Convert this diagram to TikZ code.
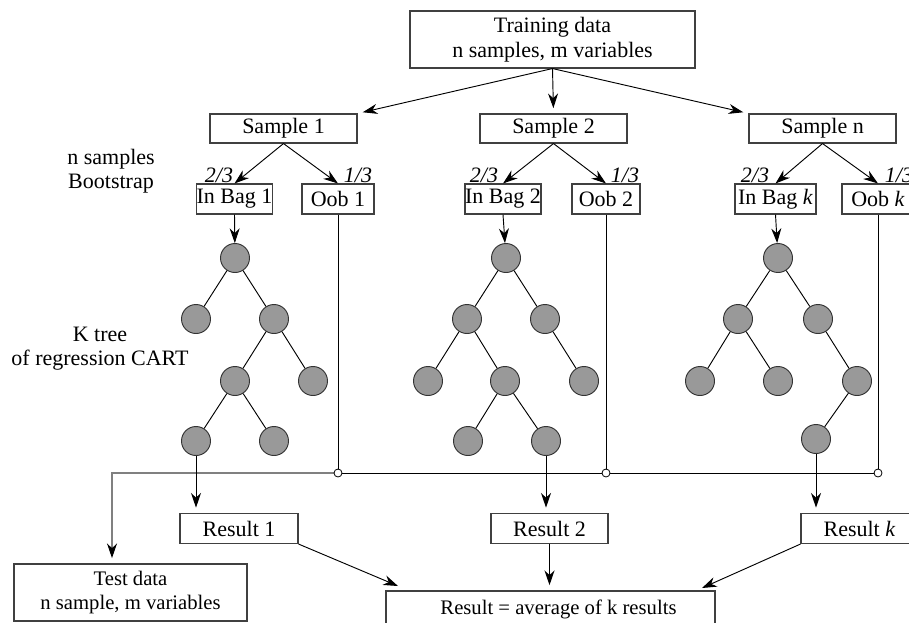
\documentclass[tikz,border=0pt]{standalone}
\usepackage{fontspec}
\setmainfont{Liberation Serif}
\usetikzlibrary{arrows.meta,calc}
\begin{document}
\begin{tikzpicture}[x=0.75pt,y=-0.75pt,
  every node/.style={font=\fontsize{16.5}{18.75}\selectfont, inner sep=0pt},
  bx/.style={draw=black!75, line width=0.8pt, rectangle, align=center, fill=white},
  leaf/.style={circle, draw=black!80, fill=black!40, line width=0.7pt, minimum size=21.75pt},
  conn/.style={line width=0.7pt, draw=black},
  arr/.style={conn, -{Stealth[length=11pt,width=7.5pt,inset=3.5pt]}},
  garr/.style={line width=0.8pt, draw=black!50, -{Stealth[length=11pt,width=7.5pt,inset=3.5pt,black]}},
  gap/.style={shorten >=4pt},
  jdot/.style={circle, draw=black, fill=white, line width=0.6pt, minimum size=6pt},
  frac/.style={font=\fontsize{16.5}{18}\selectfont\itshape},
  sidetext/.style={align=center, font=\fontsize{16.5}{18}\selectfont}
]
\useasboundingbox (0,0) rectangle (909,622);
\clip (0,0) rectangle (909,622);

% top
\node[bx, minimum width=0.75*285pt, minimum height=0.75*57pt] (train) at (552.5,39.5) {Training data\\n samples, m variables};

% samples
\node[bx, minimum width=0.75*147pt, minimum height=0.75*29pt] (s1) at (283.5,128.5) {Sample 1};
\node[bx, minimum width=0.75*147pt, minimum height=0.75*29pt] (s2) at (553.5,128.5) {Sample 2};
\node[bx, minimum width=0.75*147pt, minimum height=0.75*29pt] (sn) at (822.5,128.5) {Sample n};

% bags
\node[bx, minimum width=0.75*75pt, minimum height=0.75*30pt] (ib1) at (234.5,199) {In Bag 1};
\node[bx, minimum width=0.75*76pt, minimum height=0.75*30pt] (ib2) at (503,199) {In Bag 2};
\node[bx, minimum width=0.75*81pt, minimum height=0.75*30pt] (ibk) at (775.5,199) {In Bag \textit{k}};
\node[bx, minimum width=0.75*72pt, minimum height=0.75*30pt] (ob1) at (338,199) {Oob 1};
\node[bx, minimum width=0.75*68pt, minimum height=0.75*30pt] (ob2) at (606,199) {Oob 2};
\node[bx, minimum width=0.75*72pt, minimum height=0.75*30pt] (obk) at (878,199) {Oob \textit{k}};

% fractions
\node[frac] (fa1) at (219,175) {2/3};
\node[frac] (fb1) at (358,175) {1/3};
\node[frac] (fa2) at (484,175) {2/3};
\node[frac] (fb2) at (625,175) {1/3};
\node[frac] (fa3) at (755,175) {2/3};
\node[frac] (fb3) at (899,175) {1/3};

% side texts
\node[sidetext] (nsb) at (111,171) {n samples\\Bootstrap};
\node[sidetext] (kt) at (100,349) {K tree\\of regression CART};

% result boxes
\node[bx, minimum width=0.75*118pt, minimum height=0.75*30pt] (r1) at (239,528.5) {Result 1};
\node[bx, minimum width=0.75*117pt, minimum height=0.75*30pt] (r2) at (549.5,528.5) {Result 2};
\node[bx, minimum width=0.75*117pt, minimum height=0.75*30pt] (rk) at (859.5,528.5) {Result \textit{k}};
\node[bx, minimum width=0.75*233pt, minimum height=0.75*57pt, font=\fontsize{15.5}{18}\selectfont] (test) at (130.5,592.5) {Test data\\n sample, m variables};
\node[bx, minimum width=0.75*329pt, minimum height=0.75*36pt, font=\fontsize{15.5}{18}\selectfont] (fin) at (550.5,609) {\hspace*{12pt}Result = average of k results};

% tree 1
\node[leaf] (t1a) at (235,258) {};
\node[leaf] (t1b) at (196,319) {};
\node[leaf] (t1c) at (274,319) {};
\node[leaf] (t1d) at (235,381) {};
\node[leaf] (t1e) at (313,381) {};
\node[leaf] (t1f) at (196,441) {};
\node[leaf] (t1g) at (274,441) {};
\draw[conn] (t1a) -- (t1b);
\draw[conn] (t1a) -- (t1c);
\draw[conn] (t1c) -- (t1d);
\draw[conn] (t1c) -- (t1e);
\draw[conn] (t1d) -- (t1f);
\draw[conn] (t1d) -- (t1g);

% tree 2
\node[leaf] (t2a) at (506,258) {};
\node[leaf] (t2b) at (467,319) {};
\node[leaf] (t2c) at (545,319) {};
\node[leaf] (t2d) at (428,381) {};
\node[leaf] (t2e) at (505,381) {};
\node[leaf] (t2f) at (584,381) {};
\node[leaf] (t2g) at (468,441) {};
\node[leaf] (t2h) at (546,441) {};
\draw[conn] (t2a) -- (t2b);
\draw[conn] (t2a) -- (t2c);
\draw[conn] (t2b) -- (t2d);
\draw[conn] (t2b) -- (t2e);
\draw[conn] (t2c) -- (t2f);
\draw[conn] (t2e) -- (t2g);
\draw[conn] (t2e) -- (t2h);

% tree 3
\node[leaf] (t3a) at (778,258) {};
\node[leaf] (t3b) at (738,319) {};
\node[leaf] (t3c) at (818,319) {};
\node[leaf] (t3d) at (700,381) {};
\node[leaf] (t3e) at (778,381) {};
\node[leaf] (t3f) at (857,381) {};
\node[leaf] (t3g) at (816,439) {};
\draw[conn] (t3a) -- (t3b);
\draw[conn] (t3a) -- (t3c);
\draw[conn] (t3b) -- (t3d);
\draw[conn] (t3b) -- (t3e);
\draw[conn] (t3c) -- (t3f);
\draw[conn] (t3f) -- (t3g);

% top arrows
\draw[arr, gap] (train.south) -- (s1.north east);
\draw[arr, gap] (train.south) -- (s2.north);
\draw[arr, gap] (train.south) -- (sn.north west);
\draw[arr] (s1.south) -- (ib1.north);
\draw[arr] (s1.south) -- (ob1.north);
\draw[arr] (s2.south) -- (ib2.north);
\draw[arr] (s2.south) -- (ob2.north);
\draw[arr] (sn.south) -- (ibk.north);
\draw[arr] (sn.south) -- (obk.north);
\draw[arr] (ib1.south) -- (t1a);
\draw[arr] (ib2.south) -- (t2a);
\draw[arr] (ibk.south) -- (t3a);

% bus line
\coordinate (hl) at (0,473);
\coordinate (c0) at (112,473);
\coordinate (j1) at (ob1.south |- hl);
\coordinate (j2) at (ob2.south |- hl);
\coordinate (j3) at (obk.south |- hl);
\draw[conn] (ob1.south) -- (j1);
\draw[conn] (ob2.south) -- (j2);
\draw[conn] (obk.south) -- (j3);
\draw[conn] (j1) -- (j3);
\draw[garr, gap] (j1) -- (c0) -- (c0 |- test.north);

% tree to results
\draw[arr, gap] (t1f.south) -- (t1f.south |- r1.north);
\draw[arr, gap] (t2h.south) -- (t2h.south |- r2.north);
\draw[arr, gap] (t3g.south) -- (t3g.south |- rk.north);

% results to final
\coordinate (ea) at (398,586);
\coordinate (eb) at (702,588);
\draw[arr] (r1.south east) -- (ea);
\draw[arr, gap] (r2.south) -- (r2.south |- fin.north);
\draw[arr] (rk.south west) -- (eb);

% junction dots
\node[jdot] (d1) at (j1) {};
\node[jdot] (d2) at (j2) {};
\node[jdot] (d3) at (j3) {};
\end{tikzpicture}
\end{document}
